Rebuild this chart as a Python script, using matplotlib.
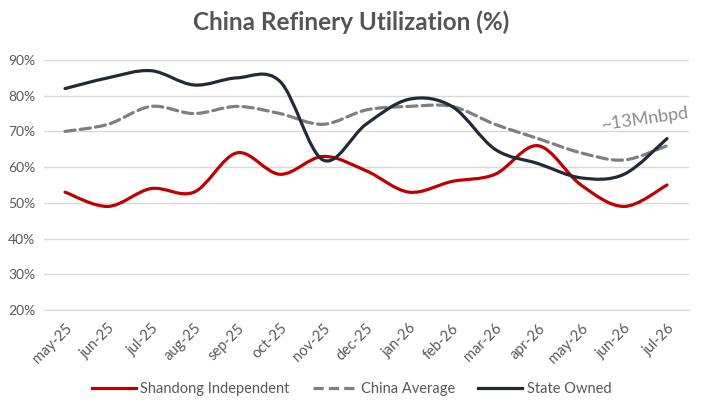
import numpy as np
import matplotlib
matplotlib.use('Agg')
import matplotlib.pyplot as plt
from matplotlib.path import Path
from matplotlib.patches import PathPatch
from matplotlib.lines import Line2D

months = ['may-25', 'jun-25', 'jul-25', 'aug-25', 'sep-25', 'oct-25', 'nov-25', 'dec-25',
          'jan-26', 'feb-26', 'mar-26', 'apr-26', 'may-26', 'jun-26', 'jul-26']
shandong = [53, 49, 54, 53, 64, 58, 63, 59, 53, 56, 58, 66, 55, 49, 55]
china_avg = [70, 72, 77, 75, 77, 75, 72, 76, 77, 77, 72, 68, 64, 62, 66]
state_owned = [82, 85, 87, 83, 85, 84, 62, 72, 79, 77, 65, 61, 57, 58, 68]
y_ticks = [20, 30, 40, 50, 60, 70, 80, 90]

plt.rcParams['font.family'] = ['Lato', 'DejaVu Sans']
gris = '#595959'


def smooth_path(y):
    # excel style smoothed line: bezier segments through each point
    x = np.arange(len(y), dtype=float)
    y = np.asarray(y, dtype=float)
    verts = [(x[0], y[0])]
    codes = [Path.MOVETO]
    n = len(y)
    for i in range(n - 1):
        x0, y0 = (x[i - 1], y[i - 1]) if i > 0 else (x[i], y[i])
        x3, y3 = (x[i + 2], y[i + 2]) if i + 2 < n else (x[i + 1], y[i + 1])
        c1 = (x[i] + (x[i + 1] - x0) / 6, y[i] + (y[i + 1] - y0) / 6)
        c2 = (x[i + 1] - (x3 - x[i]) / 6, y[i + 1] - (y3 - y[i]) / 6)
        verts += [c1, c2, (x[i + 1], y[i + 1])]
        codes += [Path.CURVE4] * 3
    return Path(verts, codes)


fig = plt.figure(figsize=(7.03, 4.07), dpi=100)
ax = fig.add_axes([0.0619, 0.2383, 0.9175, 0.6143])

series = [(shandong, '#C00000', '-', 'Shandong Independent'),
          (china_avg, '#7F7F7F', (0, (3.2, 1.6)), 'China Average'),
          (state_owned, '#222A35', '-', 'State Owned')]
handles = []
for data, col, ls, lab in series:
    p = PathPatch(smooth_path(data), facecolor='none', edgecolor=col, lw=2.3,
                  linestyle=ls, capstyle='round', joinstyle='round', zorder=3)
    ax.add_patch(p)
    handles.append(Line2D([], [], color=col, lw=2.3, linestyle=ls, label=lab))

ax.set_xlim(-0.5, len(months) - 0.5)
ax.set_ylim(20, 90)
ax.set_yticks(y_ticks)
ax.set_yticklabels([str(v) + '%' for v in y_ticks], color=gris, fontsize=10)
ax.set_xticks(range(len(months)))
ax.set_xticklabels(months, rotation=45, ha='right', rotation_mode='anchor',
                   color=gris, fontsize=10.5)
ax.tick_params(length=0, pad=6)
ax.tick_params(axis='x', pad=8)
ax.grid(axis='y', color='#D9D9D9', lw=1)
ax.set_axisbelow(True)
for s in ['top', 'right', 'left']:
    ax.spines[s].set_visible(False)
ax.spines['bottom'].set_color('#D9D9D9')

ax.text(13.5, 69.5, '~13Mnbpd', color='#8C8C8C', fontsize=13, rotation=8,
        ha='center', va='bottom')

fig.text(0.5, 0.945, 'China Refinery Utilization (%)', ha='center', va='center',
         fontsize=17.5, fontweight='bold', color='#555555')

fig.legend(handles=handles, loc='center', bbox_to_anchor=(0.5, 0.045), ncol=3,
           frameon=False, fontsize=10.5, handlelength=3.0, handletextpad=0.3,
           columnspacing=1.6, labelcolor=gris)

fig.savefig('out.png', dpi=100)
